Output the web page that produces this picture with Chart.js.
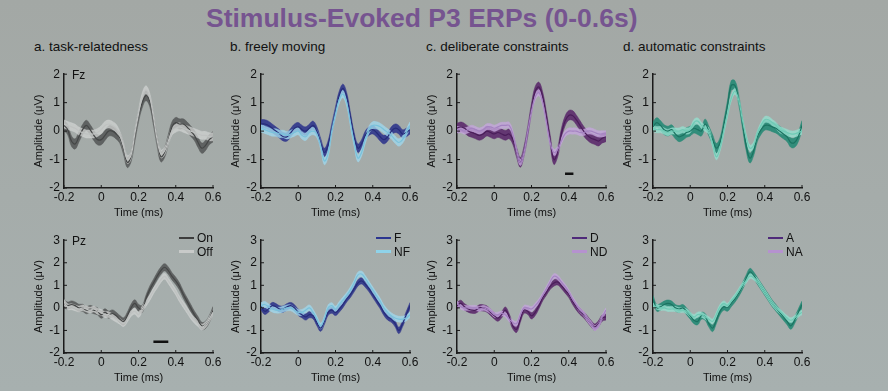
<!DOCTYPE html>
<html>
<head>
<meta charset="utf-8">
<script src="https://cdn.jsdelivr.net/npm/chart.js@4.4.0/dist/chart.umd.min.js"></script>
<style>
body { margin: 0; width: 888px; height: 391px; overflow: hidden; position: relative;
       background: linear-gradient(#a3a8a5, #a7b0af); font-family: "Liberation Sans", Arial, sans-serif; }
.abs { position: absolute; white-space: nowrap; }
#title { left: 206px; top: 3px; font-size: 26.5px; line-height: 30px; font-weight: bold; color: #765490; }
.plabel { font-size: 13.5px; line-height: 16px; color: #111; }
.elec { font-size: 12px; line-height: 14px; color: #111; }
.leg { font-size: 12px; line-height: 14px; color: #111; }
.legline { position: absolute; height: 2.5px; width: 15px; }
canvas { position: absolute; }
</style>
</head>
<body>
<div id="title" class="abs">Stimulus-Evoked P3 ERPs (0-0.6s)</div>
<div class="abs plabel" style="left:34px;top:39px">a. task-relatedness</div>
<div class="abs plabel" style="left:230px;top:39px">b. freely moving</div>
<div class="abs plabel" style="left:426px;top:39px">c. deliberate constraints</div>
<div class="abs plabel" style="left:623px;top:39px">d. automatic constraints</div>

<script>
// time axis (s)
const times = [-0.2,-0.18,-0.16,-0.14,-0.12,-0.1,-0.08,-0.06,-0.04,-0.02,
  0,0.02,0.04,0.06,0.08,0.1,0.12,0.14,0.16,0.18,
  0.2,0.22,0.24,0.26,0.28,0.3,0.32,0.34,0.36,0.38,
  0.4,0.42,0.44,0.46,0.48,0.5,0.52,0.54,0.56,0.58,0.6];
const xTicks = [-0.2, 0, 0.2, 0.4, 0.6];

// Fz means (uV)
const fzOn  = [0.2,0.05,-0.35,-0.45,-0.2,0.05,0.2,0.05,-0.15,-0.3, -0.3,-0.15,0.0,0.0,-0.1,-0.25,-0.65,-1.1,-0.9,-0.2, 0.5,1.0,1.25,1.05,0.4,-0.35,-0.9,-0.75,-0.3,0.15, 0.3,0.25,0.25,0.15,0.0,-0.15,-0.4,-0.6,-0.5,-0.3, -0.2];
const fzOff = [0.25,0.2,0.15,0.1,0.0,-0.05,-0.1,-0.1,-0.1,-0.05, 0.05,0.2,0.25,0.2,0.1,-0.15,-0.55,-1.0,-0.85,-0.1, 0.6,1.2,1.45,1.2,0.5,-0.3,-0.8,-0.7,-0.35,0.0, 0.1,0.15,0.1,0.05,0.0,-0.05,-0.1,-0.15,-0.15,-0.2, -0.2];
const fzF   = [0.25,0.25,0.2,0.1,0.0,-0.1,-0.2,-0.2,-0.05,0.1, 0.15,0.05,0.0,0.1,0.2,0.0,-0.4,-0.75,-0.5,0.1, 0.7,1.25,1.5,1.2,0.5,-0.2,-0.6,-0.45,-0.15,0.0, 0.05,-0.05,-0.2,-0.3,-0.2,0.0,0.1,0.05,-0.1,-0.05, 0.05];
const fzNF  = [0.1,0.05,0.0,-0.05,-0.05,-0.1,-0.1,-0.15,-0.1,-0.05, 0.0,-0.15,-0.2,-0.05,0.0,-0.1,-0.5,-1.05,-0.8,0.0, 0.6,1.1,1.3,1.0,0.3,-0.4,-0.95,-0.75,-0.3,0.05, 0.2,0.2,0.15,0.05,-0.05,-0.15,-0.3,-0.4,-0.3,-0.05, 0.2];
const fzD   = [0.1,0.15,0.1,0.0,-0.05,-0.1,-0.15,-0.1,0.0,-0.05, -0.1,-0.05,-0.1,-0.15,-0.1,-0.3,-0.75,-1.1,-0.7,0.0, 0.8,1.4,1.55,1.2,0.5,-0.3,-1.0,-0.75,-0.1,0.35, 0.55,0.55,0.4,0.2,0.0,-0.15,-0.25,-0.3,-0.35,-0.25, -0.2];
const fzND  = [0.05,0.05,0.0,0.05,0.1,0.05,0.0,0.05,0.15,0.15, 0.1,0.15,0.2,0.2,0.2,-0.1,-0.7,-1.1,-0.75,0.0, 0.7,1.2,1.35,1.0,0.3,-0.4,-0.75,-0.65,-0.35,-0.1, 0.0,0.0,0.0,-0.05,-0.05,0.0,0.0,-0.05,-0.1,-0.1, -0.1];
const fzA   = [0.15,0.3,0.2,0.05,0.0,0.05,-0.1,-0.2,-0.15,-0.05, 0.0,0.1,0.05,0.0,0.25,0.0,-0.3,-0.6,-0.4,0.2, 0.9,1.6,1.6,1.1,0.3,-0.5,-0.95,-0.7,-0.2,0.05, 0.2,0.2,0.15,0.1,0.0,-0.1,-0.2,-0.4,-0.4,-0.2, 0.2];
const fzNA  = [0.1,0.05,0.05,0.0,-0.05,0.0,0.0,0.0,0.05,0.0, 0.05,0.3,0.35,0.2,0.1,0.0,-0.45,-0.9,-0.6,0.0, 0.6,1.15,1.4,1.1,0.4,-0.2,-0.6,-0.5,-0.1,0.2, 0.4,0.4,0.3,0.2,0.05,0.0,-0.05,-0.1,-0.1,-0.05, 0.0];

// Pz means (uV)
const pzOn  = [0.2,0.1,0.15,0.1,0.0,0.0,-0.1,-0.05,-0.1,-0.15, -0.3,-0.2,-0.3,-0.25,-0.35,-0.5,-0.6,-0.35,0.0,0.2, 0.0,-0.05,0.4,0.8,1.1,1.4,1.65,1.8,1.65,1.4, 1.2,0.95,0.6,0.3,0.0,-0.3,-0.55,-0.8,-0.75,-0.5, -0.1];
const pzOff = [0.25,0.05,0.05,0.0,-0.05,0.0,-0.05,-0.1,-0.05,-0.15, -0.2,-0.3,-0.3,-0.4,-0.5,-0.6,-0.7,-0.5,-0.25,-0.15, -0.3,-0.05,0.2,0.45,0.75,1.0,1.25,1.4,1.2,0.95, 0.7,0.4,0.15,-0.1,-0.35,-0.55,-0.7,-0.85,-0.75,-0.5, -0.2];
const pzF   = [0.05,-0.15,-0.05,0.1,0.05,-0.05,-0.05,0.05,0.1,0.0, -0.2,-0.3,-0.4,-0.3,-0.35,-0.65,-0.9,-0.6,-0.2,-0.1, -0.2,-0.05,0.15,0.4,0.6,0.85,1.1,1.2,1.05,0.85, 0.6,0.35,0.1,-0.2,-0.4,-0.5,-0.7,-1.0,-0.7,-0.3, 0.1];
const pzNF  = [0.1,0.15,0.05,-0.05,-0.1,-0.1,-0.05,0.0,0.0,-0.1, -0.2,-0.2,-0.1,0.0,-0.2,-0.5,-0.8,-0.5,0.0,0.1, -0.05,0.15,0.35,0.55,0.8,1.1,1.45,1.5,1.3,1.05, 0.8,0.55,0.3,0.0,-0.2,-0.35,-0.45,-0.5,-0.5,-0.45, -0.3];
const pzD   = [0.1,0.2,0.05,-0.05,-0.1,-0.1,0.0,0.0,-0.05,-0.2, -0.35,-0.45,-0.3,-0.1,-0.4,-0.8,-0.95,-0.5,-0.1,-0.15, -0.35,-0.2,0.1,0.45,0.7,0.95,1.1,1.15,1.0,0.8, 0.6,0.3,0.05,-0.15,-0.3,-0.5,-0.7,-0.85,-0.7,-0.45, -0.4];
const pzND  = [0.2,0.05,0.0,0.0,0.0,0.0,-0.05,0.0,-0.05,-0.15, -0.3,-0.3,-0.25,-0.3,-0.5,-0.65,-0.7,-0.3,0.0,0.0, -0.05,0.1,0.3,0.55,0.85,1.15,1.4,1.35,1.15,0.95, 0.7,0.4,0.15,-0.1,-0.25,-0.5,-0.7,-0.9,-0.75,-0.4, -0.1];
const pzA   = [0.4,0.0,0.05,0.15,0.2,0.15,0.0,-0.05,0.0,-0.15, -0.35,-0.55,-0.6,-0.35,-0.4,-0.7,-0.9,-0.55,-0.15,0.05, 0.0,0.2,0.4,0.65,0.95,1.3,1.6,1.45,1.2,0.95, 0.7,0.45,0.2,0.0,-0.2,-0.4,-0.6,-0.8,-0.55,-0.2, 0.15];
const pzNA  = [0.1,0.05,0.0,0.0,-0.05,-0.05,-0.05,-0.1,-0.1,-0.15, -0.3,-0.4,-0.3,-0.3,-0.4,-0.5,-0.6,-0.3,0.05,0.2, 0.1,0.3,0.5,0.75,1.0,1.2,1.4,1.35,1.2,0.95, 0.7,0.45,0.2,0.0,-0.15,-0.3,-0.45,-0.55,-0.45,-0.3, -0.2];

// error band half widths, order: On, Off, F, NF, D, ND, A, NA
const fzErr = [0.18, 0.14, 0.15, 0.13, 0.17, 0.11, 0.17, 0.11];
const pzErr = [0.16, 0.13, 0.14, 0.13, 0.14, 0.11, 0.15, 0.11];

// significance bars [start, end, level]
const sigFzC = [0.38, 0.425, -1.5];
const sigPzA = [0.28, 0.36, -1.5];

const conditionNames = [["On", "Off"], ["F", "NF"], ["D", "ND"], ["A", "NA"]];

Chart.defaults.font.family = '"Liberation Sans", Arial, sans-serif';
Chart.defaults.color = '#111';

const palettes = [
  { darkFill: 'rgba(88,90,90,0.9)',   darkLine: '#444646', lightFill: 'rgba(208,211,210,0.75)', lightLine: '#bfc2c1' },
  { darkFill: 'rgba(48,54,140,0.9)',  darkLine: '#262c7a', lightFill: 'rgba(160,215,235,0.8)',  lightLine: '#78c2dc' },
  { darkFill: 'rgba(92,42,108,0.9)',  darkLine: '#4a1d5a', lightFill: 'rgba(196,166,220,0.8)',  lightLine: '#a583c2' },
  { darkFill: 'rgba(38,138,118,0.9)', darkLine: '#1b7361', lightFill: 'rgba(150,222,206,0.8)',  lightLine: '#6fcbb6' }
];
const legendColors = [['#3d3d3d', '#c8cac9'], ['#2b3590', '#8fd3ea'], ['#4f2a7a', '#b592cf'], ['#4f2a7a', '#b592cf']];
const axisXs = [64, 261, 457, 653];
const plotW = 149;

const rows = [
  { elec: 'Fz', top: 71,  h: 117, yMin: -2, yMax: 2, means: [fzOn, fzOff, fzF, fzNF, fzD, fzND, fzA, fzNA], err: fzErr },
  { elec: 'Pz', top: 237, h: 116, yMin: -2, yMax: 3, means: [pzOn, pzOff, pzF, pzNF, pzD, pzND, pzA, pzNA], err: pzErr }
];

const inwardTicks = {
  id: 'inwardTicks',
  afterDraw(chart) {
    const { ctx, chartArea: a, scales: { x, y } } = chart;
    ctx.save();
    ctx.strokeStyle = '#1a1a1a';
    ctx.lineWidth = 1;
    x.ticks.forEach(t => {
      const px = x.getPixelForValue(t.value);
      ctx.beginPath(); ctx.moveTo(px, a.bottom); ctx.lineTo(px, a.bottom - 3); ctx.stroke();
    });
    y.ticks.forEach(t => {
      const py = y.getPixelForValue(t.value);
      ctx.beginPath(); ctx.moveTo(a.left, py); ctx.lineTo(a.left + 3, py); ctx.stroke();
    });
    ctx.restore();
  }
};

function pts(vals, off) {
  return vals.map((v, i) => ({ x: times[i], y: v + off }));
}

function addDiv(cls, left, top, text) {
  const d = document.createElement('div');
  d.className = 'abs ' + cls;
  d.style.left = left + 'px';
  d.style.top = top + 'px';
  d.textContent = text;
  document.body.appendChild(d);
  return d;
}

function makePanel(row, r, col) {
  const pal = palettes[col];
  const darkMean = row.means[col * 2], lightMean = row.means[col * 2 + 1];
  const darkErr = row.err[col * 2], lightErr = row.err[col * 2 + 1];

  const canvas = document.createElement('canvas');
  const W = 44 + plotW + 14, H = 8 + row.h + 32;
  canvas.width = W; canvas.height = H;
  canvas.style.left = (axisXs[col] - 44) + 'px';
  canvas.style.top = (row.top - 8) + 'px';
  document.body.appendChild(canvas);

  const line = { pointRadius: 0, tension: 0.4, fill: false };
  const datasets = [
    { ...line, data: pts(darkMean, darkErr), borderColor: pal.darkFill, borderWidth: 0.6, order: 5 },
    { ...line, data: pts(darkMean, -darkErr), borderColor: pal.darkFill, borderWidth: 0.6, fill: '-1', backgroundColor: pal.darkFill, order: 5 },
    { ...line, data: pts(lightMean, lightErr), borderColor: pal.lightFill, borderWidth: 0.6, order: 4 },
    { ...line, data: pts(lightMean, -lightErr), borderColor: pal.lightFill, borderWidth: 0.6, fill: '-1', backgroundColor: pal.lightFill, order: 4 },
    { ...line, data: pts(darkMean, 0), borderColor: pal.darkLine, borderWidth: 1.2, order: 2 },
    { ...line, data: pts(lightMean, 0), borderColor: pal.lightLine, borderWidth: 1.2, order: 1 }
  ];
  const sig = (r === 0 && col === 2) ? sigFzC : (r === 1 && col === 0) ? sigPzA : null;
  if (sig) {
    datasets.push({ data: [{ x: sig[0], y: sig[2] }, { x: sig[1], y: sig[2] }], borderColor: '#111',
      borderWidth: 2.5, pointRadius: 0, tension: 0, fill: false, order: 0 });
  }

  const yTicks = [];
  for (let v = row.yMin; v <= row.yMax; v++) yTicks.push(v);

  new Chart(canvas, {
    type: 'line',
    data: { datasets },
    options: {
      responsive: false,
      animation: false,
      events: [],
      layout: { padding: { top: 8, right: 14, left: 0, bottom: 0 } },
      plugins: { legend: { display: false }, tooltip: { enabled: false } },
      scales: {
        x: {
          type: 'linear', min: -0.2, max: 0.6,
          afterFit: s => { s.height = 32; },
          afterBuildTicks: s => { s.ticks = xTicks.map(v => ({ value: v })); },
          grid: { display: false, drawTicks: false, tickLength: 0 },
          border: { display: true, color: '#1a1a1a', width: 1.5 },
          ticks: { padding: 2, font: { size: 12 }, color: '#111', maxRotation: 0,
                   callback: v => String(Math.round(v * 10) / 10) },
          title: { display: true, text: 'Time (ms)', font: { size: 11 }, color: '#111', padding: { top: 0, bottom: 0 } }
        },
        y: {
          min: row.yMin, max: row.yMax,
          afterFit: s => { s.width = 44; },
          afterBuildTicks: s => { s.ticks = yTicks.map(v => ({ value: v })); },
          grid: { display: false, drawTicks: false, tickLength: 0 },
          border: { display: true, color: '#1a1a1a', width: 1.5 },
          ticks: { padding: 4, font: { size: 12 }, color: '#111' },
          title: { display: true, text: 'Amplitude (\u03bcV)', font: { size: 11 }, color: '#111', padding: { top: 12, bottom: 0 } }
        }
      }
    },
    plugins: [inwardTicks]
  });

  if (col === 0) addDiv('elec', axisXs[col] + 8, row.top - 3, row.elec);
  if (r === 1) {
    const names = conditionNames[col];
    const lx = axisXs[col] + 115;
    [0, 1].forEach(k => {
      const ln = document.createElement('div');
      ln.className = 'legline';
      ln.style.left = lx + 'px';
      ln.style.top = (row.top + k * 13.5 - 0.5) + 'px';
      ln.style.background = legendColors[col][k];
      document.body.appendChild(ln);
      addDiv('leg', lx + 18, row.top - 6 + k * 13.5, names[k]);
    });
  }
}

rows.forEach((row, r) => {
  for (let col = 0; col < 4; col++) makePanel(row, r, col);
});
</script>
</body>
</html>
